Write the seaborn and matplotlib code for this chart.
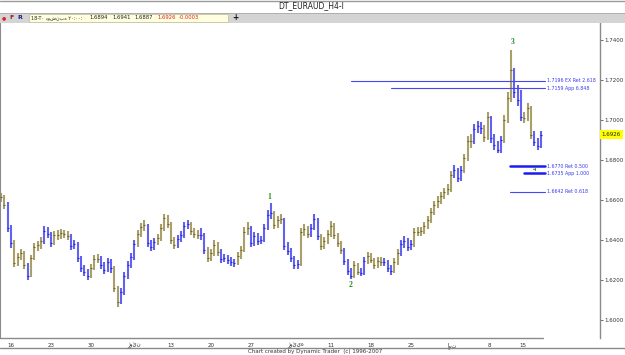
import matplotlib
matplotlib.use("Agg")
import matplotlib.pyplot as plt
import seaborn as sns
import pandas as pd
from matplotlib.lines import Line2D
from matplotlib.patches import Rectangle

# ---------------- data ----------------
close = [1.6615, 1.6575, 1.6460, 1.6385, 1.6285, 1.6315, 1.6335, 1.6275, 1.6220, 1.6310,
         1.6365, 1.6375, 1.6395, 1.6445, 1.6430, 1.6385, 1.6425, 1.6425, 1.6435, 1.6430,
         1.6420, 1.6370, 1.6380, 1.6310, 1.6260, 1.6240, 1.6220, 1.6260, 1.6305, 1.6305,
         1.6275, 1.6250, 1.6290, 1.6260, 1.6160, 1.6090, 1.6140, 1.6220, 1.6275, 1.6315,
         1.6380, 1.6430, 1.6465, 1.6475, 1.6385, 1.6365, 1.6390, 1.6410, 1.6460, 1.6510,
         1.6480, 1.6400, 1.6375, 1.6405, 1.6425, 1.6470, 1.6480, 1.6445, 1.6430, 1.6425,
         1.6425, 1.6350, 1.6310, 1.6335, 1.6375, 1.6340, 1.6305, 1.6310, 1.6300, 1.6290,
         1.6285, 1.6320, 1.6350, 1.6440, 1.6460, 1.6385, 1.6420, 1.6395, 1.6400, 1.6460,
         1.6525, 1.6535, 1.6475, 1.6500, 1.6505, 1.6370, 1.6345, 1.6310, 1.6275, 1.6280,
         1.6440, 1.6455, 1.6430, 1.6460, 1.6505, 1.6420, 1.6370, 1.6395, 1.6430, 1.6470,
         1.6425, 1.6385, 1.6350, 1.6295, 1.6245, 1.6220, 1.6275, 1.6240, 1.6235, 1.6295,
         1.6320, 1.6300, 1.6275, 1.6295, 1.6290, 1.6290, 1.6260, 1.6245, 1.6290, 1.6335,
         1.6380, 1.6395, 1.6365, 1.6380, 1.6440, 1.6440, 1.6445, 1.6470, 1.6500, 1.6540,
         1.6575, 1.6595, 1.6620, 1.6640, 1.6655, 1.6725, 1.6750, 1.6710, 1.6750, 1.6810,
         1.6895, 1.6895, 1.6955, 1.6970, 1.6960, 1.6915, 1.7015, 1.6910, 1.6875, 1.6850,
         1.6900, 1.7000, 1.7110, 1.7250, 1.7140, 1.7100, 1.7015, 1.7010, 1.7060, 1.6925,
         1.6890, 1.6870, 1.6926]

high = [1.6635, 1.6625, 1.6590, 1.6475, 1.6400, 1.6335, 1.6355, 1.6345, 1.6285, 1.6325,
        1.6385, 1.6395, 1.6415, 1.6470, 1.6465, 1.6440, 1.6445, 1.6450, 1.6455, 1.6450,
        1.6445, 1.6430, 1.6400, 1.6390, 1.6320, 1.6275, 1.6255, 1.6280, 1.6325, 1.6330,
        1.6320, 1.6290, 1.6310, 1.6305, 1.6270, 1.6170, 1.6160, 1.6240, 1.6295, 1.6335,
        1.6400, 1.6450, 1.6485, 1.6500, 1.6480, 1.6400, 1.6410, 1.6430, 1.6480, 1.6530,
        1.6525, 1.6490, 1.6415, 1.6425, 1.6445, 1.6490, 1.6500, 1.6490, 1.6460, 1.6450,
        1.6460, 1.6435, 1.6365, 1.6355, 1.6400, 1.6390, 1.6355, 1.6330, 1.6325, 1.6315,
        1.6305, 1.6340, 1.6370, 1.6465, 1.6490, 1.6470, 1.6440, 1.6435, 1.6420, 1.6480,
        1.6550, 1.6585, 1.6545, 1.6520, 1.6530, 1.6510, 1.6390, 1.6360, 1.6320, 1.6300,
        1.6460, 1.6480, 1.6470, 1.6480, 1.6530, 1.6510, 1.6430, 1.6415, 1.6450, 1.6495,
        1.6485, 1.6435, 1.6395, 1.6360, 1.6305, 1.6260, 1.6295, 1.6285, 1.6260, 1.6315,
        1.6340, 1.6335, 1.6310, 1.6315, 1.6315, 1.6310, 1.6300, 1.6275, 1.6310, 1.6355,
        1.6400, 1.6420, 1.6410, 1.6400, 1.6460, 1.6465, 1.6465, 1.6490, 1.6520, 1.6560,
        1.6595, 1.6620, 1.6640, 1.6660, 1.6680, 1.6745, 1.6775, 1.6760, 1.6770, 1.6830,
        1.6920, 1.6930, 1.6980, 1.6995, 1.6990, 1.6975, 1.7040, 1.7020, 1.6930, 1.6895,
        1.6920, 1.7025, 1.7140, 1.7350, 1.7260, 1.7175, 1.7150, 1.7040, 1.7085, 1.7070,
        1.6945, 1.6910, 1.6945]

low = [1.6590, 1.6555, 1.6440, 1.6360, 1.6265, 1.6270, 1.6300, 1.6255, 1.6200, 1.6215,
       1.6300, 1.6345, 1.6355, 1.6380, 1.6410, 1.6365, 1.6375, 1.6400, 1.6405, 1.6410,
       1.6400, 1.6350, 1.6355, 1.6290, 1.6240, 1.6220, 1.6200, 1.6210, 1.6250, 1.6285,
       1.6255, 1.6230, 1.6240, 1.6235, 1.6140, 1.6065, 1.6080, 1.6125, 1.6205, 1.6260,
       1.6300, 1.6365, 1.6415, 1.6445, 1.6365, 1.6345, 1.6350, 1.6375, 1.6395, 1.6445,
       1.6460, 1.6380, 1.6355, 1.6360, 1.6390, 1.6410, 1.6455, 1.6425, 1.6410, 1.6405,
       1.6400, 1.6330, 1.6290, 1.6295, 1.6320, 1.6320, 1.6285, 1.6290, 1.6280, 1.6270,
       1.6265, 1.6275, 1.6305, 1.6340, 1.6425, 1.6365, 1.6370, 1.6375, 1.6380, 1.6390,
       1.6450, 1.6505, 1.6455, 1.6460, 1.6480, 1.6350, 1.6325, 1.6290, 1.6255, 1.6255,
       1.6270, 1.6420, 1.6410, 1.6415, 1.6450, 1.6400, 1.6350, 1.6355, 1.6380, 1.6415,
       1.6405, 1.6365, 1.6330, 1.6275, 1.6225, 1.6205, 1.6210, 1.6225, 1.6220, 1.6225,
       1.6280, 1.6285, 1.6255, 1.6260, 1.6270, 1.6270, 1.6240, 1.6225, 1.6235, 1.6275,
       1.6320, 1.6360, 1.6345, 1.6350, 1.6365, 1.6420, 1.6420, 1.6430, 1.6455, 1.6485,
       1.6525, 1.6560, 1.6580, 1.6605, 1.6625, 1.6640, 1.6710, 1.6690, 1.6695, 1.6735,
       1.6795, 1.6860, 1.6880, 1.6935, 1.6930, 1.6890, 1.6900, 1.6885, 1.6850, 1.6835,
       1.6835, 1.6885, 1.6985, 1.7090, 1.7110, 1.7070, 1.6995, 1.6985, 1.6995, 1.6905,
       1.6870, 1.6850, 1.6860]

# bar colouring runs: (number of bars, trend)
trend_runs = [(2, "o"), (2, "b"), (4, "o"), (1, "b"), (4, "o"), (3, "b"), (5, "o"), (6, "b"),
              (3, "o"), (4, "b"), (2, "o"), (5, "b"), (3, "o"), (3, "b"), (6, "o"), (4, "b"),
              (3, "o"), (2, "b"), (4, "o"), (5, "b"), (4, "o"), (7, "b"), (3, "o"), (5, "b"),
              (3, "o"), (3, "b"), (7, "o"), (3, "b"), (2, "o"), (2, "b"), (5, "o"), (3, "b"),
              (2, "o"), (4, "b"), (12, "o"), (3, "b"), (3, "o"), (3, "b"), (2, "o"), (4, "b"),
              (3, "o"), (3, "b"), (3, "o"), (3, "b")]

x_tick_pos = [2, 14, 26, 38, 50, 62, 74, 86, 98, 110, 122, 134, 146, 155.5]
x_tick_labels = ["16", "23", "30", "ژوئن", "13", "20", "27", "ژوئیه",
                 "11", "18", "25", "اوت", "8", "15"]
y_ticks = [1.6000, 1.6200, 1.6400, 1.6600, 1.6800, 1.7000, 1.7200, 1.7400]

levels = [1.7196, 1.7159, 1.6770, 1.6735, 1.6642]
level_labels = ["1.7196 EX Ret 2.618", "1.7159 App 6.848", "1.6770 Ret 0.500",
                "1.6735 App 1.000", "1.6642 Ret 0.618"]
level_start = [105, 117, 152.7, 156.9, 152.7]

wave_names = ["1", "2", "3", "4"]
wave_x = [80.4, 105.0, 153.6, 160.2]
wave_y = [1.6615, 1.6175, 1.7390, 1.6753]

last_price = 1.6926
toolbar_vals = ["1.6894", "1.6941", "1.6887"]
toolbar_red = ["1.6926", "-0.0003"]

# ---------------- build frame ----------------
trend = []
for n, t in trend_runs:
    trend += [t] * n
df = pd.DataFrame({"idx": range(len(close)), "high": high,
                   "low": low, "close": close, "trend": trend})

sns.set_style("white")
plt.rcParams["font.family"] = ["DejaVu Sans"]

W, H = 625, 355
fig = plt.figure(figsize=(W / 100, H / 100), dpi=100)
fig.patch.set_facecolor("white")

ax = fig.add_axes([0.0, 17 / H, 600 / W, 316 / H])
ax.set_facecolor("white")

colors = {"b": "#6262f0", "o": "#a8a068"}
dark = {"b": "#2a2ad8", "o": "#6e6830"}
for t, sub in df.groupby("trend"):
    ax.vlines(sub["idx"], sub["low"], sub["high"], color=colors[t], lw=1.5)
sns.scatterplot(data=df, x="idx", y="close", hue="trend", palette=dark,
                marker="_", s=1.5, linewidth=0.8, legend=False, ax=ax, zorder=3)

xmin = -0.3
ax.set_xlim(xmin, xmin + 600 / (10 / 3))
ax.set_ylim(1.591, 1.749)
ax.set_xlabel("")
ax.set_ylabel("")

for s in ["top", "bottom"]:
    ax.spines[s].set_visible(False)
ax.spines["left"].set_color("#8a8a8a")
ax.spines["left"].set_linewidth(1.5)
ax.spines["right"].set_color("#8a8a8a")
ax.spines["right"].set_linewidth(1.0)

ax.plot([xmin, 162.6], [1.591, 1.591], color="#8a8a8a", lw=1.0, clip_on=False)

ax.yaxis.tick_right()
ax.set_yticks(y_ticks)
ax.set_yticklabels([f"{v:.4f}" for v in y_ticks])
ax.tick_params(axis="y", length=2, width=0.6, colors="#555555", labelsize=4,
               pad=1, labelcolor="#333333")
ax.set_xticks(x_tick_pos)
ax.set_xticklabels(x_tick_labels)
ax.tick_params(axis="x", length=2.5, width=0.6, colors="#555555", labelsize=4,
               pad=0.8, labelcolor="#333333")
for lbl in ax.get_xticklabels():
    lbl.set_horizontalalignment("left")

# Fibonacci / target levels
lw_levels = [0.8, 0.8, 1.8, 1.8, 0.8]
for lv, lab, st, lw in zip(levels, level_labels, level_start, lw_levels):
    ax.plot([st, 163.2], [lv, lv], color="#4646f5" if lw < 1 else "#1c1cf0", lw=lw)
    ax.text(163.8, lv, lab, fontsize=3.4, color="#3a3af0", ha="left", va="center")

for nm, wx, wy in zip(wave_names, wave_x, wave_y):
    ax.text(wx, wy, nm, fontsize=5.5 if nm != "4" else 4.8, color="#258a25",
            ha="center", va="center", family=["Liberation Serif"], zorder=6,
            weight="bold")

# last price box on right axis
ax.text(1.003, last_price, f"{last_price:.4f}", transform=ax.get_yaxis_transform(),
        fontsize=4, ha="left", va="center", color="#222222",
        bbox=dict(boxstyle="square,pad=0.35", fc="#ffff00", ec="none"))

# ---------------- header / footer ----------------
def fy(py):
    return 1 - py / H

fig.text(311 / W, fy(6), "DT_EURAUD_H4-I", ha="center", va="center", fontsize=5.5,
         color="#222222")
fig.add_artist(Line2D([0, 1], [fy(0.5), fy(0.5)], color="#9a9a9a", lw=1))
fig.add_artist(Rectangle((0, fy(22.5)), 1, 9.5 / H, transform=fig.transFigure,
                         fc="#d4d4d4", ec="none"))
fig.add_artist(Line2D([0, 1], [fy(13), fy(13)], color="#a8a8a8", lw=0.6))
fig.add_artist(Rectangle((29 / W, fy(21.5)), 199 / W, 7.5 / H, transform=fig.transFigure,
                         fc="#ffffe0", ec="#bdbd9a", lw=0.5))
fig.text(4 / W, fy(17.5), "●", color="#dd2222", fontsize=3.5, ha="center", va="center")
fig.text(12 / W, fy(17.5), "F", color="#a01818", fontsize=4.5, ha="center", va="center",
         weight="bold")
fig.text(19.5 / W, fy(17.5), "R", color="#1c1c8c", fontsize=4.5, ha="center", va="center",
         weight="bold")
fig.text(31 / W, fy(17.5), "18-T۰ دوشنبه ۲۰:۰۰:", color="#222222", fontsize=3.5,
         ha="left", va="center")
for v, px in zip(toolbar_vals, [89, 112, 134]):
    fig.text(px / W, fy(17.5), v, color="#222222", fontsize=3.8, ha="left", va="center")
for v, px in zip(toolbar_red, [157, 179]):
    fig.text(px / W, fy(17.5), v, color="#e02020", fontsize=3.8, ha="left", va="center")
fig.text(235 / W, fy(17.5), "+", color="#111111", fontsize=5.5, ha="center", va="center",
         weight="bold")

fig.add_artist(Line2D([0, 1], [fy(348), fy(348)], color="#8a8a8a", lw=1))
fig.text(315 / W, fy(352), "Chart created by Dynamic Trader  (c) 1996-2007",
         ha="center", va="center", fontsize=4, color="#333333")

fig.savefig("out.png", dpi=100, facecolor="white")
